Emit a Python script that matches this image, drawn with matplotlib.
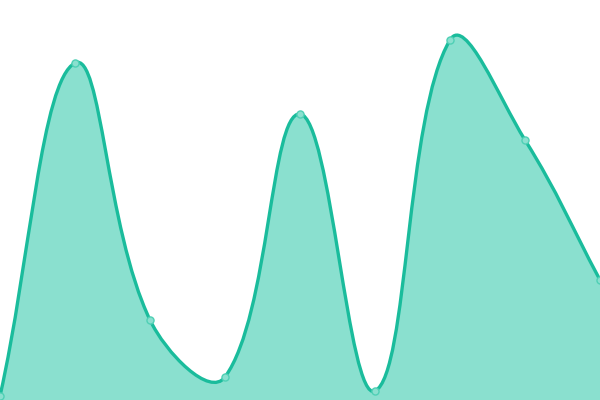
import numpy as np
import matplotlib
matplotlib.use("Agg")
import matplotlib.pyplot as plt
from matplotlib.path import Path
from matplotlib.patches import PathPatch

categories = list(range(9))
values = [4, 337, 80, 23, 286, 9, 360, 260, 120]

LINE = "#1ABC9C"
FILL = "#8AE0CF"
MARK_EDGE = "#4FD0B5"
TENSION = 0.4

fig = plt.figure(figsize=(6, 4), dpi=100)
ax = fig.add_axes([0, 0, 1, 1])
ax.set_xlim(0, len(categories) - 1)
ax.set_ylim(0, 400)
ax.axis("off")

pts = ax.transData.transform(np.column_stack([categories, values]).astype(float))
n = len(pts)
cp_prev = pts.copy()
cp_next = pts.copy()
for i in range(n):
    p0 = pts[i - 1] if i > 0 else pts[i]
    p1 = pts[i]
    p2 = pts[i + 1] if i < n - 1 else pts[i]
    d01 = np.hypot(*(p1 - p0))
    d12 = np.hypot(*(p2 - p1))
    tot = d01 + d12
    s01 = d01 / tot if tot else 0
    s12 = d12 / tot if tot else 0
    cp_prev[i] = p1 - TENSION * s01 * (p2 - p0)
    cp_next[i] = p1 + TENSION * s12 * (p2 - p0)

verts = [pts[0]]
codes = [Path.MOVETO]
for i in range(n - 1):
    verts += [cp_next[i], cp_prev[i + 1], pts[i + 1]]
    codes += [Path.CURVE4] * 3
inv = ax.transData.inverted()
verts_d = inv.transform(np.array(verts))

line_path = Path(verts_d, codes)
fill_verts = list(verts_d) + [[categories[-1], 0], [categories[0], 0], verts_d[0]]
fill_codes = codes + [Path.LINETO, Path.LINETO, Path.CLOSEPOLY]
ax.add_patch(PathPatch(Path(fill_verts, fill_codes), facecolor=FILL, edgecolor="none", zorder=1))
ax.add_patch(PathPatch(line_path, facecolor="none", edgecolor=LINE, lw=2.4, zorder=2, capstyle="round", joinstyle="round"))
ax.scatter(categories, values, s=26, facecolor=FILL, edgecolor=MARK_EDGE, linewidths=1.0, zorder=3, clip_on=False)

fig.savefig("out.png", dpi=100)
